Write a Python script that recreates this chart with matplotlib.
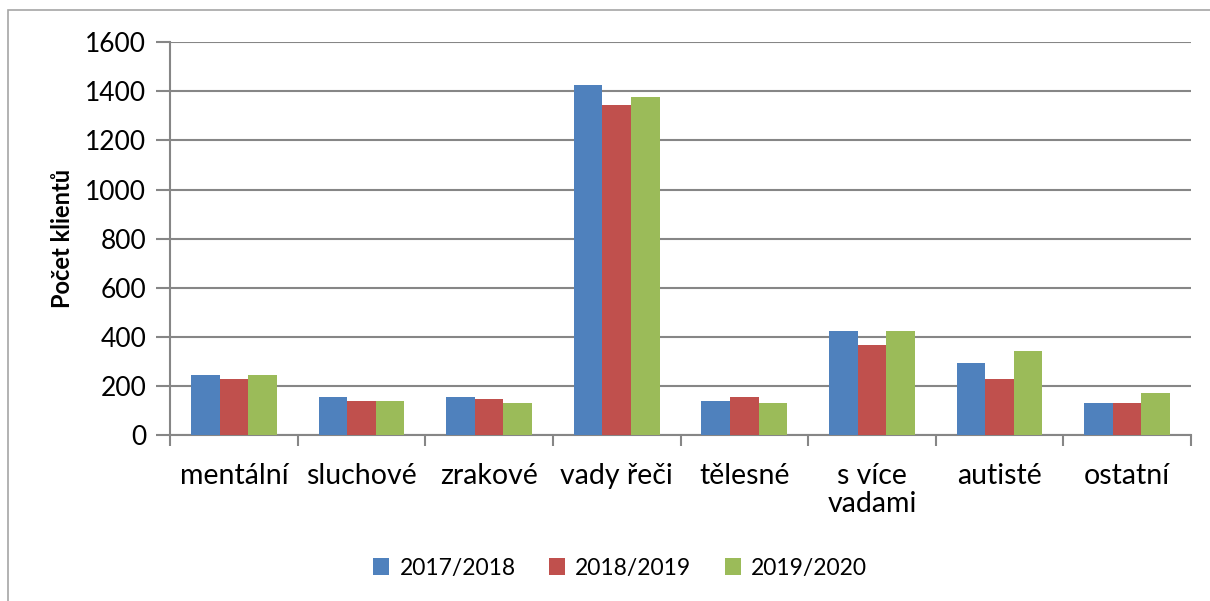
import matplotlib
matplotlib.use("Agg")
import matplotlib.pyplot as plt
import numpy as np
from matplotlib.patches import Rectangle

categories = ["mentální", "sluchové", "zrakové", "vady řeči", "tělesné", "s více\nvadami", "autisté", "ostatní"]
series_names = ["2017/2018", "2018/2019", "2019/2020"]
v2017 = [245, 155, 155, 1424, 140, 424, 293, 130]
v2018 = [230, 140, 147, 1343, 155, 367, 228, 130]
v2019 = [245, 140, 130, 1376, 130, 424, 342, 171]
colors = ["#4F81BD", "#C0504D", "#9BBB59"]
yticks = [0, 200, 400, 600, 800, 1000, 1200, 1400, 1600]

plt.rcParams['font.family'] = ['Lato', 'DejaVu Sans']

fig = plt.figure(figsize=(12.1, 6.01), dpi=100)
ax = fig.add_axes([170/1210, 1-435/601, (1191-170)/1210, (435-42.3)/601])

# outer chart border
fig.patches.append(Rectangle((8/1210, -0.05), 1.2, 1-10/601+0.05, transform=fig.transFigure,
                             fill=False, edgecolor="#A6A6A6", linewidth=1.2, zorder=0))

x = np.arange(len(categories))
w = 0.224
for i, (vals, c, name) in enumerate(zip([v2017, v2018, v2019], colors, series_names)):
    ax.bar(x + (i - 1) * w, vals, width=w, color=c, label=name, zorder=3)

ax.set_xlim(-0.5, len(categories) - 0.5)
ax.set_ylim(0, 1600)
ax.set_yticks(yticks)
ax.set_yticklabels([str(t) for t in yticks], fontsize=19)
ax.yaxis.grid(True, color="#868686", linewidth=1.5, zorder=0)
ax.set_axisbelow(True)

ax.set_xticks(x)
ax.set_xticklabels(categories, fontsize=20.5, linespacing=1.1)
ax.tick_params(axis='x', length=0, pad=20)
ax.set_xticks(np.arange(-0.5, len(categories)), minor=True)
ax.tick_params(axis='x', which='minor', length=8, width=1.5, color="#868686")
ax.tick_params(axis='y', length=10, width=1.5, color="#868686", pad=7)

for s in ["top", "right"]:
    ax.spines[s].set_visible(False)
for s in ["left", "bottom"]:
    ax.spines[s].set_color("#868686")
    ax.spines[s].set_linewidth(1.5)

ax.set_ylabel("Počet klientů", fontsize=17, fontweight="bold", labelpad=8)

fig.legend(loc="center", bbox_to_anchor=(620/1210, 1-568/601), ncol=3, frameon=False,
           fontsize=16.5, handlelength=0.7, handleheight=0.7, handletextpad=0.45, columnspacing=1.45)

fig.savefig("out.png", dpi=100)
